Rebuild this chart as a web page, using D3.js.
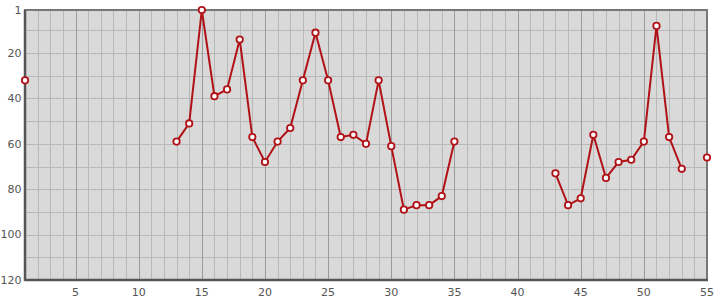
<!DOCTYPE html>
<html>
<head>
<meta charset="utf-8">
<script src="https://cdn.jsdelivr.net/npm/d3@7.9.0/dist/d3.min.js"></script>
<style>
  html, body { margin: 0; padding: 0; background: #fff; }
  svg { display: block; font-family: "DejaVu Sans", sans-serif; }
  .tick-label { font-size: 11px; fill: #555; }
</style>
</head>
<body>
<div id="chart"></div>
<script>
// positions 1..55, null = no value
const weeks = d3.range(1, 56);
const ranks = [
  32, null, null, null, null, null, null, null, null, null,
  null, null, 59, 51, 1, 39, 36, 14, 57, 68,
  59, 53, 32, 11, 32, 57, 56, 60, 32, 61,
  89, 87, 87, 83, 59, null, null, null, null, null,
  null, null, 73, 87, 84, 56, 75, 68, 67, 59,
  8, 57, 71, null, 66
];
const xTicks = [5, 10, 15, 20, 25, 30, 35, 40, 45, 50, 55];
const yTicks = [1, 20, 40, 60, 80, 100, 120];

const points = weeks.map((w, i) => ({ week: w, rank: ranks[i] }));

const width = 715;
const height = 300;
const plot = { left: 25, right: 707, top: 10, bottom: 280 };

const svg = d3.select('#chart')
  .append('svg')
  .attr('width', width)
  .attr('height', height);

const xScale = d3.scaleLinear().domain([1, 55]).range([plot.left, plot.right]);
const yScale = d3.scaleLinear().domain([1, 120]).range([plot.top, plot.bottom]);

svg.append('rect')
  .attr('x', plot.left)
  .attr('y', plot.top)
  .attr('width', plot.right - plot.left)
  .attr('height', plot.bottom - plot.top)
  .attr('fill', '#d9d9d9');

// horizontal grid every 10
const grid = svg.append('g').attr('class', 'grid');
grid.selectAll('line.h')
  .data(d3.range(10, 120, 10))
  .join('line')
  .attr('class', 'h')
  .attr('x1', plot.left)
  .attr('x2', plot.right)
  .attr('y1', (d) => Math.round(yScale(d)) + 0.5)
  .attr('y2', (d) => Math.round(yScale(d)) + 0.5)
  .attr('stroke', '#b8b8b8');

// vertical grid every 1, darker every 5
grid.selectAll('line.v')
  .data(d3.range(2, 55))
  .join('line')
  .attr('class', 'v')
  .attr('x1', (d) => Math.round(xScale(d)) + 0.5)
  .attr('x2', (d) => Math.round(xScale(d)) + 0.5)
  .attr('y1', plot.top)
  .attr('y2', plot.bottom)
  .attr('stroke', (d) => (d % 5 === 0 ? '#9a9a9a' : '#b8b8b8'));

// frame
svg.append('rect')
  .attr('x', plot.left)
  .attr('y', plot.top)
  .attr('width', plot.right - plot.left)
  .attr('height', plot.bottom - plot.top)
  .attr('fill', 'none')
  .attr('stroke', '#777')
  .attr('stroke-width', 2);

svg.append('line')
  .attr('x1', plot.left).attr('x2', plot.left)
  .attr('y1', plot.top).attr('y2', plot.bottom + 1)
  .attr('stroke', '#555').attr('stroke-width', 2.5);

svg.append('line')
  .attr('x1', plot.left).attr('x2', plot.right + 1)
  .attr('y1', plot.bottom).attr('y2', plot.bottom)
  .attr('stroke', '#555').attr('stroke-width', 2.5);

// tick labels
svg.append('g')
  .selectAll('text')
  .data(yTicks)
  .join('text')
  .attr('class', 'tick-label')
  .attr('x', 21.5)
  .attr('y', (d) => yScale(d))
  .attr('dy', '0.35em')
  .attr('text-anchor', 'end')
  .text((d) => d);

svg.append('g')
  .selectAll('text')
  .data(xTicks)
  .join('text')
  .attr('class', 'tick-label')
  .attr('x', (d) => xScale(d))
  .attr('y', 296)
  .attr('text-anchor', 'middle')
  .text((d) => d);

// line + markers
const line = d3.line()
  .defined((d) => d.rank !== null)
  .x((d) => xScale(d.week))
  .y((d) => yScale(d.rank));

svg.append('path')
  .datum(points)
  .attr('d', line)
  .attr('fill', 'none')
  .attr('stroke', '#b01217')
  .attr('stroke-width', 2);

svg.append('g')
  .selectAll('circle')
  .data(points.filter((d) => d.rank !== null))
  .join('circle')
  .attr('cx', (d) => xScale(d.week))
  .attr('cy', (d) => yScale(d.rank))
  .attr('r', 3.2)
  .attr('fill', '#fff')
  .attr('stroke', '#b01217')
  .attr('stroke-width', 1.8);
</script>
</body>
</html>
